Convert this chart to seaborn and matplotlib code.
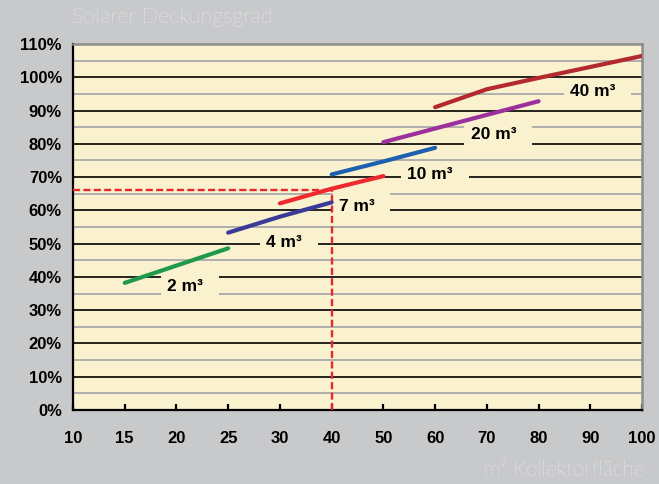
import matplotlib
matplotlib.use("Agg")
import matplotlib.pyplot as plt
import seaborn as sns
import pandas as pd

# ---- data ----
x_ticks = [10, 15, 20, 25, 30, 40, 50, 60, 70, 80, 90, 100]
y_ticks = [0, 10, 20, 30, 40, 50, 60, 70, 80, 90, 100, 110]

series_names = ["2 m³", "4 m³", "7 m³", "10 m³", "20 m³", "40 m³"]
s2_x = [15, 20, 25];            s2_y = [38.2, 43.4, 48.6]
s4_x = [25, 30, 40];            s4_y = [53.3, 58.1, 62.4]
s7_x = [30, 40, 50];            s7_y = [62.1, 66.5, 70.3]
s10_x = [40, 50, 60];           s10_y = [70.8, 74.7, 78.8]
s20_x = [50, 60, 70, 80];       s20_y = [80.5, 84.6, 88.7, 92.8]
s40_x = [60, 70, 80, 90, 100];  s40_y = [91.0, 96.4, 99.8, 103.1, 106.4]

ref_x = 40
ref_y = 66

label_x = [21.3, 31.8, 45.8, 60.0, 72.2, 91.4]
label_y = [37.0, 50.2, 61.1, 70.9, 82.9, 95.7]

colors = ["#1f9a4c", "#3b3a96", "#ee2a2e", "#1f5faf", "#9c309c", "#b3292e"]

# ---- build table ----
xs = [s2_x, s4_x, s7_x, s10_x, s20_x, s40_x]
ys = [s2_y, s4_y, s7_y, s10_y, s20_y, s40_y]
rows = []
for name, sx, sy in zip(series_names, xs, ys):
    for a, b in zip(sx, sy):
        rows.append({"series": name, "pos": x_ticks.index(a), "value": b})
df = pd.DataFrame(rows)


def to_pos(v):
    # piecewise-linear map of x value onto categorical tick positions
    for i in range(len(x_ticks) - 1):
        if x_ticks[i] <= v <= x_ticks[i + 1]:
            return i + (v - x_ticks[i]) / (x_ticks[i + 1] - x_ticks[i])
    return len(x_ticks) - 1


sns.set_theme(style="white")
plt.rcParams["font.family"] = ["Liberation Sans", "DejaVu Sans"]

fig = plt.figure(figsize=(6.59, 4.84), dpi=100, facecolor="#c8c9cb")
ax = fig.add_axes([73 / 659, 1 - 410 / 484, (642 - 73) / 659, (410 - 44) / 484])
ax.set_facecolor("#faf2cf")

# grid
ax.set_ylim(0, 110)
ax.set_xlim(0, len(x_ticks) - 1)
ax.set_yticks(y_ticks)
ax.set_yticklabels([f"{v}%" for v in y_ticks])
ax.set_yticks([v + 5 for v in y_ticks[:-1]], minor=True)
ax.grid(which="major", axis="y", color="black", lw=1.2, zorder=0)
ax.grid(which="minor", axis="y", color="#a9a9a9", lw=1.3, zorder=0)
ax.grid(which="major", axis="x", visible=False)
ax.set_axisbelow(True)

ax.set_xticks(range(len(x_ticks)))
ax.set_xticklabels([str(v) for v in x_ticks])

# labels with cream box
for name, lx, ly in zip(series_names, label_x, label_y):
    ax.text(to_pos(lx), ly, name + "  ", ha="center", va="center",
            fontsize=12.5, fontweight="bold", color="black", zorder=2,
            bbox=dict(boxstyle="square,pad=0.35", fc="#faf2cf", ec="none"))

# reference dashed lines
p = x_ticks.index(ref_x)
ax.plot([0, p], [ref_y, ref_y], color="#e8262b", lw=1.7, dashes=(3, 1.4), zorder=3)
ax.plot([p, p], [0, ref_y], color="#e8262b", lw=1.7, dashes=(3, 1.4), zorder=3)

sns.lineplot(data=df, x="pos", y="value", hue="series", hue_order=series_names,
             palette=dict(zip(series_names, colors)), linewidth=3,
             legend=False, sort=False, ax=ax, zorder=4)
ax.set_xlim(0, len(x_ticks) - 1)
ax.set_xlabel("")
ax.set_ylabel("")

# spines & ticks
for s in ["left", "bottom"]:
    ax.spines[s].set_color("black")
    ax.spines[s].set_linewidth(1.6)
for s in ["top", "right"]:
    ax.spines[s].set_color("#8c8c8c")
    ax.spines[s].set_linewidth(1.8)
ax.tick_params(axis="y", which="major", direction="out", length=5, width=1.6,
               color="black", pad=3, labelsize=12)
ax.tick_params(axis="y", which="minor", length=0)
ax.tick_params(axis="x", which="major", direction="in", length=4, width=1.6,
               color="black", pad=15, labelsize=12, bottom=True)
for lbl in ax.get_xticklabels() + ax.get_yticklabels():
    lbl.set_fontweight("bold")
    lbl.set_color("black")

fig.text(72 / 659, 1 - 23 / 484, "Solarer Deckungsgrad", color="white",
         fontsize=15.5, family=["Lato", "DejaVu Sans"], fontweight="light",
         ha="left", va="baseline")
fig.text(645 / 659, 1 - 476 / 484, "m² Kollektorfläche", color="white",
         fontsize=15, family=["Lato", "DejaVu Sans"], fontweight="light",
         ha="right", va="baseline")

fig.savefig("out.png", dpi=100, facecolor=fig.get_facecolor())
